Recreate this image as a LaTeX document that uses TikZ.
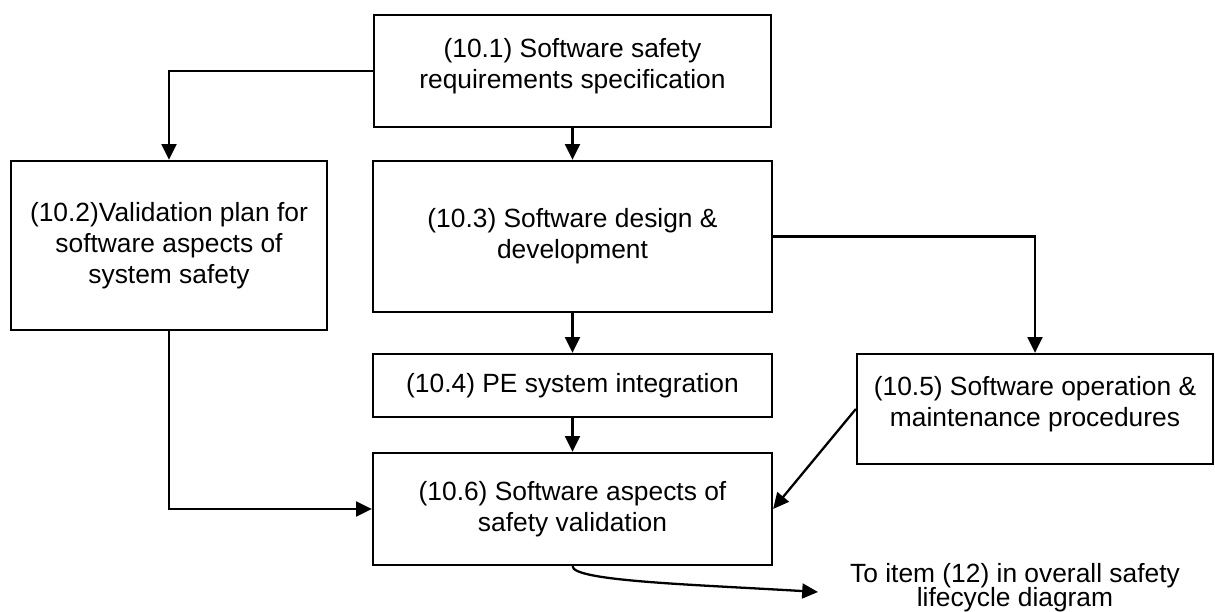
\documentclass[tikz,border=0pt]{standalone}
\usepackage{fontspec}
\setmainfont{Liberation Sans}
\usetikzlibrary{arrows.meta}
\begin{document}
\begin{tikzpicture}[>={Triangle[length=9pt,width=8.5pt]},
		every node/.style={font=\fontsize{15}{17.6}\selectfont,align=center},
		stagebox/.style={draw,line width=1.3pt,rectangle,inner sep=0pt},
		raised/.style={text depth=9pt},
		flow/.style={->,line width=1.3pt}]
		
		\useasboundingbox (0,0) rectangle (24.3,12.24);
		
		\node[stagebox,raised,minimum width=7.94cm,minimum height=2.24cm](spec) at (11.45,10.82) {(10.1) Software safety\\requirements specification};
		\node[stagebox,minimum width=6.32cm,minimum height=3.38cm](plan) at (3.38,7.33) {(10.2)Validation plan for\\software aspects of\\system safety};
		\node[stagebox,minimum width=7.98cm,minimum height=3.02cm](design) at (11.45,7.51) {(10.3) Software design \&\\development};
		\node[stagebox,minimum width=7.98cm,minimum height=1.26cm](integ) at (11.45,4.53) {(10.4) PE system integration};
		\node[stagebox,raised,minimum width=7.12cm,minimum height=2.20cm](oper) at (20.70,4.06) {(10.5) Software operation \&\\maintenance procedures};
		\node[stagebox,minimum width=7.98cm,minimum height=2.24cm](valid) at (11.45,2.06) {(10.6) Software aspects of\\safety validation};
		\node[font=\fontsize{15}{14}\selectfont](item) at (20.3,0.49) {To item (12) in overall safety\\lifecycle diagram};
		\coordinate (tip) at (16.36,0.40);
		
		\draw[flow] (spec.west) -| (plan.north);
		\draw[flow] (spec) -- (design);
		\draw[flow] (design.east) -| (oper.north);
		\draw[flow] (design) -- (integ);
		\draw[flow] (integ) -- (valid);
		\draw[flow] (plan.south) |- (valid.west);
		\draw[flow] (oper.west) -- (valid.east);
		\draw[flow] (valid.south) .. controls +(0,-0.3) and +(-2.5,0.15) .. (tip);
		\end{tikzpicture}
\end{document}
